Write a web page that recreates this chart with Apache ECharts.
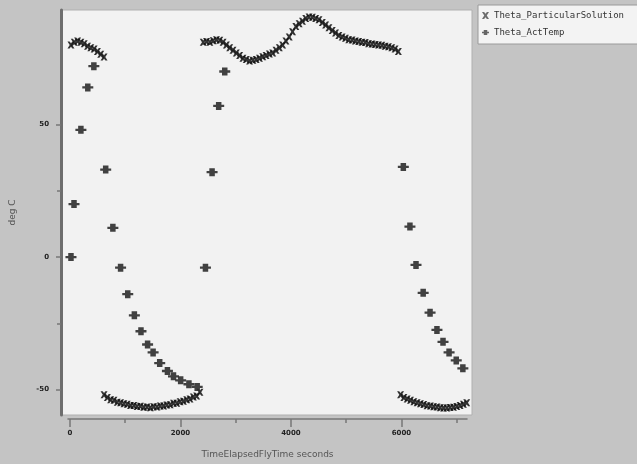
<!DOCTYPE html>
<html>
<head>
<meta charset="utf-8">
<script src="https://cdn.jsdelivr.net/npm/echarts@6/dist/echarts.min.js"></script>
<style>html,body{margin:0;padding:0;background:#c4c4c4;}#c{width:637px;height:464px;}</style>
</head>
<body>
<div id="c"></div>
<script>
// Series names
const seriesNames = ['Theta_ParticularSolution', 'Theta_ActTemp'];
// Tick labels
const xTickLabels = [0, 2000, 4000, 6000];
const xMinorTicks = [1000, 3000, 5000, 7000];
const yTickLabels = [-50, 0, 50];
const yMinorTicks = [-25, 25];

// Dense series [seconds, deg C]
const particularSeg1 = [[0,80],[60,81],[120,81.5],[180,81],[240,80.5],[300,79.5],[360,79],[420,78.5],[480,77.5],[540,76.5],[600,75.5]];
const particularSeg2 = [[600,-52],[660,-53],[720,-53.8],[780,-54],[840,-54.8],[900,-55],[960,-55.4],[1020,-55.5],[1080,-56],[1140,-56],[1200,-56.4],[1260,-56.3],[1320,-56.7],[1380,-56.6],[1440,-56.9],[1500,-56.5],[1560,-56.6],[1620,-56.2],[1680,-56.2],[1740,-55.8],[1800,-55.7],[1860,-55.2],[1920,-55.2],[1980,-54.6],[2040,-54.4],[2100,-53.8],[2160,-53.6],[2220,-52.8],[2280,-52.4],[2340,-51]];
const particularSeg3 = [[2400,81],[2460,81.3],[2520,81],[2580,81.6],[2640,82],[2700,81.8],[2760,81],[2820,80],[2880,79],[2940,78],[3000,77],[3060,76],[3120,75],[3180,74.5],[3240,74],[3300,74.2],[3360,74.5],[3420,75],[3480,75.6],[3540,76],[3600,76.6],[3660,77],[3720,78],[3780,79],[3840,80],[3900,81.5],[3960,83],[4020,85],[4080,87],[4140,88],[4200,89],[4260,90],[4320,90.6],[4380,90.5],[4440,90],[4500,89.5],[4560,88.5],[4620,87.5],[4680,86.5],[4740,85.5],[4800,84.5],[4860,83.6],[4920,83],[4980,82.5],[5040,82],[5100,81.9],[5160,81.5],[5220,81.3],[5280,81],[5340,80.9],[5400,80.5],[5460,80.4],[5520,80.2],[5580,80],[5640,79.9],[5700,79.5],[5760,79.3],[5820,79],[5880,78.5],[5940,77.5]];
const particularSeg4 = [[5980,-52],[6040,-53],[6100,-53.6],[6160,-54],[6220,-54.6],[6280,-55],[6340,-55.4],[6400,-55.6],[6460,-56.1],[6520,-56.2],[6580,-56.5],[6640,-56.6],[6700,-56.9],[6760,-57],[6820,-57],[6880,-56.8],[6940,-56.7],[7000,-56.4],[7060,-56],[7120,-55.5],[7180,-55]];

// Sparse series [seconds, deg C]
const actTemp = [[0,0],[55,20],[180,48],[305,64],[415,72],[630,33],[760,11],[900,-4],[1030,-14],[1150,-22],[1270,-28],[1390,-33],[1490,-36],[1610,-40],[1750,-43],[1860,-45],[1990,-46.5],[2140,-48],[2290,-49],[2440,-4],[2560,32],[2680,57],[2790,70],[6030,34],[6150,11.5],[6260,-3],[6390,-13.5],[6515,-21],[6640,-27.5],[6750,-32],[6860,-36],[6990,-39],[7110,-42]];

const particular = [].concat(particularSeg1, particularSeg2, particularSeg3, particularSeg4);

const xSym = 'path://M0,0 L3,0 L5,2.5 L7,0 L10,0 L6.8,5 L10,10 L7,10 L5,7.5 L3,10 L0,10 L3.2,5 Z';
const pSym = 'path://M0,4 L2.5,4 L2.5,1.5 L7.5,1.5 L7.5,4 L10,4 L10,6 L7.5,6 L7.5,8.5 L2.5,8.5 L2.5,6 L0,6 Z';

const chart = echarts.init(document.getElementById('c'));
chart.setOption({
  backgroundColor: '#c4c4c4',
  animation: false,
  textStyle: {fontFamily: 'DejaVu Sans'},
  grid: [
    {left: 60, top: 10, width: 412, height: 405, show: true, backgroundColor: '#f2f2f2', borderColor: '#b0b0b0', borderWidth: 1},
    {left: 68, top: 10, width: 399, height: 409, show: false}
  ],
  legend: {
    left: 478, top: 5, orient: 'vertical', itemGap: 8, itemWidth: 7, itemHeight: 7,
    padding: [6, 40, 7, 4],
    backgroundColor: '#f3f3f3', borderColor: '#9a9a9a', borderWidth: 1,
    textStyle: {fontSize: 9, color: '#333', fontFamily: 'DejaVu Sans Mono'},
    data: [
      {name: seriesNames[0], icon: xSym, itemStyle: {color: '#555'}},
      {name: seriesNames[1], icon: pSym, itemStyle: {color: '#555'}}
    ]
  },
  xAxis: [
    {gridIndex: 0, type: 'value', min: -181, max: 7276, position: 'bottom',
      axisLine: {show: false}, axisTick: {show: false}, axisLabel: {show: false}, splitLine: {show: false}},
    {gridIndex: 1, type: 'value', min: -36, max: 7186, position: 'bottom',
      name: 'TimeElapsedFlyTime seconds', nameLocation: 'middle', nameGap: 31,
      nameTextStyle: {fontSize: 9, color: '#555'},
      axisLine: {show: true, onZero: false, lineStyle: {color: '#777', width: 1.5}},
      axisTick: {show: true, length: 8, customValues: xTickLabels, lineStyle: {color: '#777', width: 1.5}},
      axisLabel: {show: true, customValues: xTickLabels, fontSize: 7, color: '#222', fontWeight: 'bold', margin: 11,
        formatter: function (v) { return String(v); }},
      splitLine: {show: false}},
    {gridIndex: 1, type: 'value', min: -36, max: 7186, position: 'bottom',
      axisLine: {show: false, onZero: false},
      axisTick: {show: true, length: 4, customValues: xMinorTicks, lineStyle: {color: '#777', width: 1.5}},
      axisLabel: {show: false}, splitLine: {show: false}}
  ],
  yAxis: [
    {gridIndex: 0, type: 'value', min: -59.6, max: 93.2, position: 'left',
      name: 'deg C', nameLocation: 'middle', nameGap: 44, nameRotate: 90,
      nameTextStyle: {fontSize: 9, color: '#555'},
      axisLine: {show: true, onZero: false, lineStyle: {color: '#6e6e6e', width: 3}},
      axisTick: {show: true, length: 5, customValues: yTickLabels, lineStyle: {color: '#777', width: 1.5}},
      axisLabel: {show: true, customValues: yTickLabels, fontSize: 7, color: '#222', fontWeight: 'bold', margin: 12},
      splitLine: {show: false}},
    {gridIndex: 0, type: 'value', min: -59.6, max: 93.2, position: 'left', offset: 0,
      axisLine: {show: false, onZero: false},
      axisTick: {show: true, length: 4, customValues: yMinorTicks, lineStyle: {color: '#777', width: 1.5}},
      axisLabel: {show: false}, splitLine: {show: false}},
    {gridIndex: 1, type: 'value', min: 0, max: 1, show: false}
  ],
  series: [
    {name: seriesNames[0], type: 'scatter', xAxisIndex: 0, yAxisIndex: 0, data: particular,
      symbol: xSym, symbolSize: 7, itemStyle: {color: '#111', opacity: 0.85}},
    {name: seriesNames[1], type: 'scatter', xAxisIndex: 0, yAxisIndex: 0, data: actTemp,
      symbol: pSym, symbolSize: [11, 8], itemStyle: {color: '#2e2e2e', opacity: 0.9}}
  ]
});
</script>
</body>
</html>
